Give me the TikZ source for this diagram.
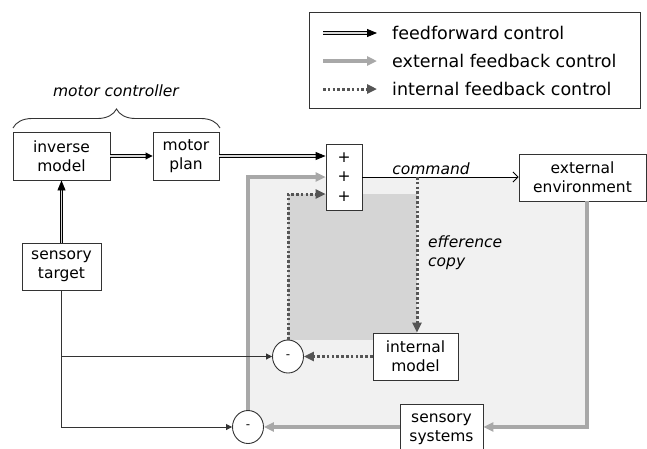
\documentclass[tikz,border=0pt]{standalone}
\usepackage{fontspec}
\setmainfont{DejaVu Sans}
\usetikzlibrary{arrows.meta,decorations.pathreplacing,shapes.geometric}

\definecolor{fbgray}{HTML}{A8A8A8}
\definecolor{ifgray}{HTML}{555555}
\definecolor{lightzone}{HTML}{F1F1F1}
\definecolor{darkzone}{HTML}{D5D5D5}
\definecolor{edge}{HTML}{333333}
\definecolor{ffgap}{HTML}{D8D8D8}

\begin{document}
\begin{tikzpicture}[x=1pt,y=-1pt,
  txt/.style={font=\fontsize{15.5}{18.8}\selectfont},
  block/.style={draw=edge, line width=0.9pt, fill=white, align=center, inner sep=0pt, txt},
  sumnode/.style={draw=edge, line width=0.9pt, fill=white, ellipse, minimum width=31pt,
    minimum height=33pt, inner sep=0pt, font=\fontsize{12}{14}\selectfont},
  ff/.style={draw=black, line width=0.9pt, double=ffgap, double distance=1.3pt,
    -{Triangle[length=10pt,width=8pt]}},
  ffsmall/.style={ff, -{Triangle[length=7pt,width=7pt]}},
  extfb/.style={draw=fbgray, line width=3.5pt, -{Triangle[length=10pt,width=9pt]}},
  intfb/.style={draw=ifgray, line width=3pt, dash pattern=on 2.6pt off 2.2pt,
    -{Triangle[length=10pt,width=9pt]}},
  sig/.style={draw=edge, line width=0.9pt, -{Triangle[length=6pt,width=6pt]}},
  cmd/.style={draw=black, line width=0.9pt, -{Straight Barb[length=5pt,width=10pt]}},
  lbl/.style={font=\fontsize{15.5}{18.8}\selectfont\itshape, inner sep=0pt},
  legtxt/.style={font=\fontsize{17.5}{21}\selectfont, inner sep=0pt, anchor=west}]

\useasboundingbox (0,0) rectangle (647,448);

% shaded regions of the two feedback loops
\fill[lightzone] (248,177) rectangle (587,427);
\fill[darkzone] (288,194) rectangle (417,340);

% legend
\node[draw=edge, line width=0.9pt, minimum width=331pt, minimum height=96pt, inner sep=0pt]
  (legend) at (474.5,60) {};
\coordinate (l1a) at (323,33); \coordinate (l1b) at (377,33);
\coordinate (l2a) at (323,61); \coordinate (l2b) at (377,61);
\coordinate (l3a) at (323,89); \coordinate (l3b) at (377,89);
\draw[ff] (l1a) -- (l1b);
\draw[extfb] (l2a) -- (l2b);
\draw[intfb] (l3a) -- (l3b);
\node[legtxt] (t1) at (392,33) {feedforward control};
\node[legtxt] (t2) at (392,61) {external feedback control};
\node[legtxt] (t3) at (392,89) {internal feedback control};

% blocks
\node[block, minimum width=97pt, minimum height=48pt] (inv) at (61.5,156) {inverse\\model};
\node[block, minimum width=66pt, minimum height=48pt] (plan) at (186,156) {motor\\plan};
\node[block, minimum width=79pt, minimum height=47pt] (target) at (61.5,266.5) {sensory\\target};
\node[block, minimum width=36pt, minimum height=66pt, font=\fontsize{15.5}{19.5}\selectfont]
  (sum) at (344,177) {+\\+\\+};
\node[block, minimum width=127pt, minimum height=47pt] (env) at (582.5,177.5) {external\\environment};
\node[block, minimum width=85pt, minimum height=47pt] (intm) at (415.5,356.5) {internal\\model};
\node[block, minimum width=83pt, minimum height=50pt] (sens) at (441.5,429) {sensory\\systems};
\node[sumnode] (c1) at (288,356.5) {-};
\node[sumnode] (c2) at (248,427) {-};

% motor controller brace
\coordinate (br1) at (13,128); \coordinate (br2) at (220,128);
\draw[edge, line width=0.9pt, decorate, decoration={brace, amplitude=19pt}] (br1) -- (br2);
\node[lbl, anchor=base] (mc) at (116,96) {motor controller};

% feedforward path
\draw[ff] (target.north) -- (inv.south);
\draw[ffsmall] (inv.east) -- (plan.west);
\draw[ff] (plan.east) -- (plan.east -| sum.west);

% motor command
\draw[cmd] (sum.east) -- (sum.east -| env.west);
\node[lbl, anchor=base] (cmdlbl) at (431,174.5) {command};

% external feedback loop
\coordinate (loopR) at (587,427);
\coordinate (loopL) at (248,177);
\draw[extfb] (env.south -| loopR) -- (loopR) -- (loopR -| sens.east);
\draw[extfb] (sens.west |- c2.east) -- (c2.east);
\draw[extfb] (c2.north) -- (loopL) -- (sum.west |- loopL);

% internal feedback loop
\coordinate (tap) at (417,177);
\coordinate (dotL) at (288,194);
\draw[intfb] (tap) -- (tap |- intm.north);
\node[lbl, anchor=north west, align=left] (eff) at (428,236) {efference\\copy};
\draw[intfb] (intm.west) -- (c1.east);
\draw[intfb] (c1.north) -- (dotL) -- (sum.west |- dotL);

% comparison with the sensory target
\coordinate (split) at (target.south |- c1.west);
\draw[sig] (target.south) -- (target.south |- c2.west) -- (c2.west);
\draw[sig] (split) -- (c1.west);

\end{tikzpicture}
\end{document}
